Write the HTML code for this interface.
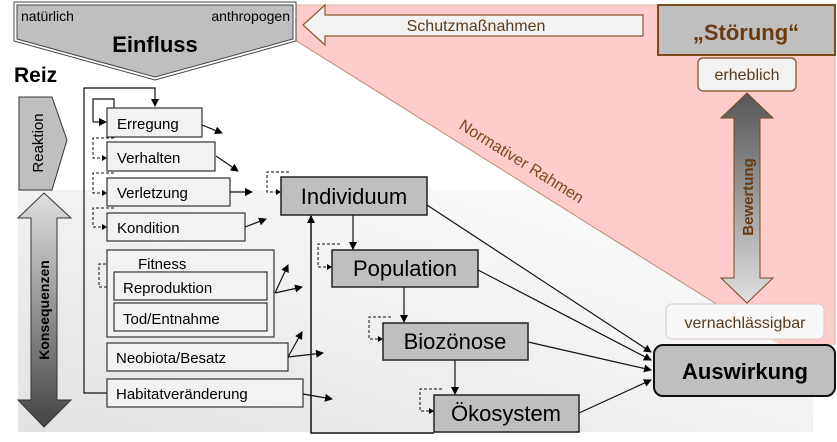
<!DOCTYPE html>
<html><head><meta charset="utf-8"><style>
html,body{margin:0;padding:0;background:#fff;}
svg{display:block;font-family:"Liberation Sans",sans-serif;}
</style></head><body>
<svg width="837" height="442" viewBox="0 0 837 442" xmlns="http://www.w3.org/2000/svg">
<defs>
<linearGradient id="bg" x1="0" y1="1" x2="1" y2="0">
<stop offset="0" stop-color="#e2e2e2"/><stop offset="0.55" stop-color="#f3f3f3"/><stop offset="1" stop-color="#ffffff"/>
</linearGradient>
<linearGradient id="bw" x1="0" y1="0" x2="0" y2="1">
<stop offset="0" stop-color="#555"/><stop offset="1" stop-color="#e0e0e0"/>
</linearGradient>
<linearGradient id="ks" x1="0" y1="0" x2="0" y2="1">
<stop offset="0" stop-color="#e0e0e0"/><stop offset="1" stop-color="#444"/>
</linearGradient>
<marker id="a" markerWidth="8" markerHeight="8" refX="7" refY="4" orient="auto" markerUnits="userSpaceOnUse">
<path d="M0,0 L8,4 L0,8 z" fill="#000"/></marker>
</defs>
<rect x="18" y="190" width="795" height="242" fill="url(#bg)"/>
<polygon points="295,5 835,5 835,345 780,345 718,305 295,40" fill="#ffcccc"/>
<line x1="295" y1="40" x2="718" y2="305" stroke="#c08a6a" stroke-width="1"/>
<line x1="295" y1="5" x2="835" y2="5" stroke="#d8b0a0" stroke-width="1"/>
<line x1="835" y1="5" x2="835" y2="345" stroke="#d8b0a0" stroke-width="1"/>
<text transform="translate(458,128) rotate(32)" font-size="16" fill="#7a4a1a">Normativer Rahmen</text>

<polygon points="14,2 296,2 296,41 155,80 14,41" fill="#fff" stroke="#444" stroke-width="1"/>
<polygon points="17,5 293,5 293,39 155,77 17,39" fill="#bfbfbf" stroke="#444" stroke-width="1"/>
<text x="21" y="21" font-size="14">natürlich</text>
<text x="290" y="21" font-size="14" text-anchor="end">anthropogen</text>
<text x="155" y="52" font-size="22" font-weight="bold" text-anchor="middle">Einfluss</text>

<polygon points="303,25 325,5 325,15 643,15 643,36 325,36 325,45" fill="#f2f2f2" stroke="#8b5a2b" stroke-width="1.2"/>
<text x="476" y="31" font-size="16" fill="#5b3a1a" text-anchor="middle">Schutzmaßnahmen</text>

<rect x="658" y="5" width="177" height="50" fill="#bfbfbf" stroke="#7a4a1a" stroke-width="2"/>
<text x="746" y="40" font-size="22" font-weight="bold" fill="#6b3a10" text-anchor="middle">„Störung“</text>
<rect x="698" y="58" width="98" height="33" rx="5" fill="#f2f2f2" stroke="#7a4a1a" stroke-width="1.2"/>
<text x="747" y="80" font-size="16" fill="#5b3a1a" text-anchor="middle">erheblich</text>
<polygon points="747,93 773,118 760,118 760,278 773,278 747,303 721,278 734,278 734,118 721,118" fill="url(#bw)" stroke="#7a4a1a" stroke-width="1"/>
<text transform="translate(753,197) rotate(-90)" font-size="15" font-weight="bold" fill="#6b3a10" text-anchor="middle">Bewertung</text>
<rect x="666" y="304" width="158" height="35" rx="6" fill="#f8f8f8" stroke="#e0c8c0" stroke-width="1"/>
<text x="745" y="328" font-size="16" fill="#5b3a1a" text-anchor="middle">vernachlässigbar</text>
<rect x="654" y="345" width="181" height="51" rx="9" fill="#bfbfbf" stroke="#111" stroke-width="2"/>
<text x="745" y="379" font-size="22" font-weight="bold" text-anchor="middle">Auswirkung</text>

<text x="14" y="82" font-size="21" font-weight="bold">Reiz</text>
<polygon points="19,97 52,97 67,140 52,190 19,190" fill="#bfbfbf" stroke="#333" stroke-width="1"/>
<text transform="translate(43,143) rotate(-90)" font-size="15" text-anchor="middle">Reaktion</text>
<polygon points="44,193 71,218 57,218 57,400 71,400 44,427 18,400 31,400 31,218 18,218" fill="url(#ks)" stroke="#333" stroke-width="1"/>
<text transform="translate(49,310) rotate(-90)" font-size="14" font-weight="bold" text-anchor="middle">Konsequenzen</text>

<g fill="none" stroke="#111" stroke-width="1.2">
<polyline points="107,393 84,393 84,88 155,88 155,106" marker-end="url(#a)"/>
<polyline points="93,122 93,99 114,99 114,108"/>
<line x1="93" y1="122" x2="106" y2="122" marker-end="url(#a)"/>
</g>
<g fill="none" stroke="#111" stroke-width="1" stroke-dasharray="3,2">
<polyline points="114,138 93,138 93,158 103,158"/>
<polyline points="114,173 93,173 93,193 103,193"/>
<polyline points="114,208 93,208 93,227 103,227"/>
<polyline points="121,264 99,264 99,287 110,287"/>
<polyline points="289,172 267,172 267,192 277,192"/>
<polyline points="340,244 318,244 318,267 328,267"/>
<polyline points="391,317 369,317 369,339 379,339"/>
<polyline points="442,389 420,389 420,411 430,411"/>
</g>
<g fill="#000">
<path d="M102,155 L107,158 L102,161z"/><path d="M102,190 L107,193 L102,196z"/><path d="M102,224 L107,227 L102,230z"/>
<path d="M109,284 L114,287 L109,290z"/><path d="M276,189 L281,192 L276,195z"/><path d="M327,264 L332,267 L327,270z"/>
<path d="M378,336 L383,339 L378,342z"/><path d="M429,408 L434,411 L429,414z"/>
</g>

<g stroke="#333" stroke-width="1.2" fill="#f2f2f2">
<rect x="107" y="108" width="95" height="29"/>
<rect x="107" y="142" width="108" height="29"/>
<rect x="107" y="178" width="123" height="28"/>
<rect x="107" y="213" width="138" height="28"/>
<rect x="107" y="250" width="167" height="87"/>
<rect x="114" y="272" width="153" height="28"/>
<rect x="114" y="303" width="153" height="28"/>
<rect x="107" y="343" width="181" height="28"/>
<rect x="107" y="379" width="196" height="28"/>
</g>
<g font-size="15">
<text x="117" y="129">Erregung</text>
<text x="117" y="163">Verhalten</text>
<text x="117" y="198">Verletzung</text>
<text x="117" y="233">Kondition</text>
<text x="138" y="269">Fitness</text>
<text x="123" y="293">Reproduktion</text>
<text x="123" y="324">Tod/Entnahme</text>
<text x="116" y="363">Neobiota/Besatz</text>
<text x="116" y="399">Habitatveränderung</text>
</g>

<g stroke="#111" stroke-width="1.2" fill="none">
<line x1="202" y1="125" x2="222" y2="133" marker-end="url(#a)"/>
<line x1="216" y1="156" x2="238" y2="171" marker-end="url(#a)"/>
<line x1="230" y1="192" x2="252" y2="192" marker-end="url(#a)"/>
<line x1="245" y1="227" x2="266" y2="219" marker-end="url(#a)"/>
<line x1="275" y1="293" x2="288" y2="265" marker-end="url(#a)"/>
<line x1="275" y1="293" x2="302" y2="287" marker-end="url(#a)"/>
<line x1="288" y1="357" x2="302" y2="332" marker-end="url(#a)"/>
<line x1="288" y1="357" x2="323" y2="353" marker-end="url(#a)"/>
<line x1="303" y1="394" x2="332" y2="399" marker-end="url(#a)"/>
<polyline points="434,433 311,433 311,216" stroke-width="1.5" marker-end="url(#a)"/>
<line x1="353" y1="215" x2="353" y2="249" marker-end="url(#a)"/>
<line x1="404" y1="287" x2="404" y2="322" marker-end="url(#a)"/>
<line x1="455" y1="360" x2="455" y2="394" marker-end="url(#a)"/>
<line x1="427" y1="205" x2="651" y2="352" marker-end="url(#a)"/>
<line x1="478" y1="270" x2="651" y2="360" marker-end="url(#a)"/>
<line x1="528" y1="342" x2="651" y2="370" marker-end="url(#a)"/>
<line x1="579" y1="413" x2="651" y2="380" marker-end="url(#a)"/>
</g>

<g stroke="#222" stroke-width="1.5" fill="#bfbfbf">
<rect x="281" y="177" width="146" height="38"/>
<rect x="332" y="250" width="146" height="37"/>
<rect x="383" y="323" width="145" height="37"/>
<rect x="434" y="395" width="145" height="37"/>
</g>
<g font-size="22" text-anchor="middle">
<text x="354" y="204">Individuum</text>
<text x="405" y="276">Population</text>
<text x="455" y="349">Biozönose</text>
<text x="506" y="421">Ökosystem</text>
</g>
</svg>
</body></html>
